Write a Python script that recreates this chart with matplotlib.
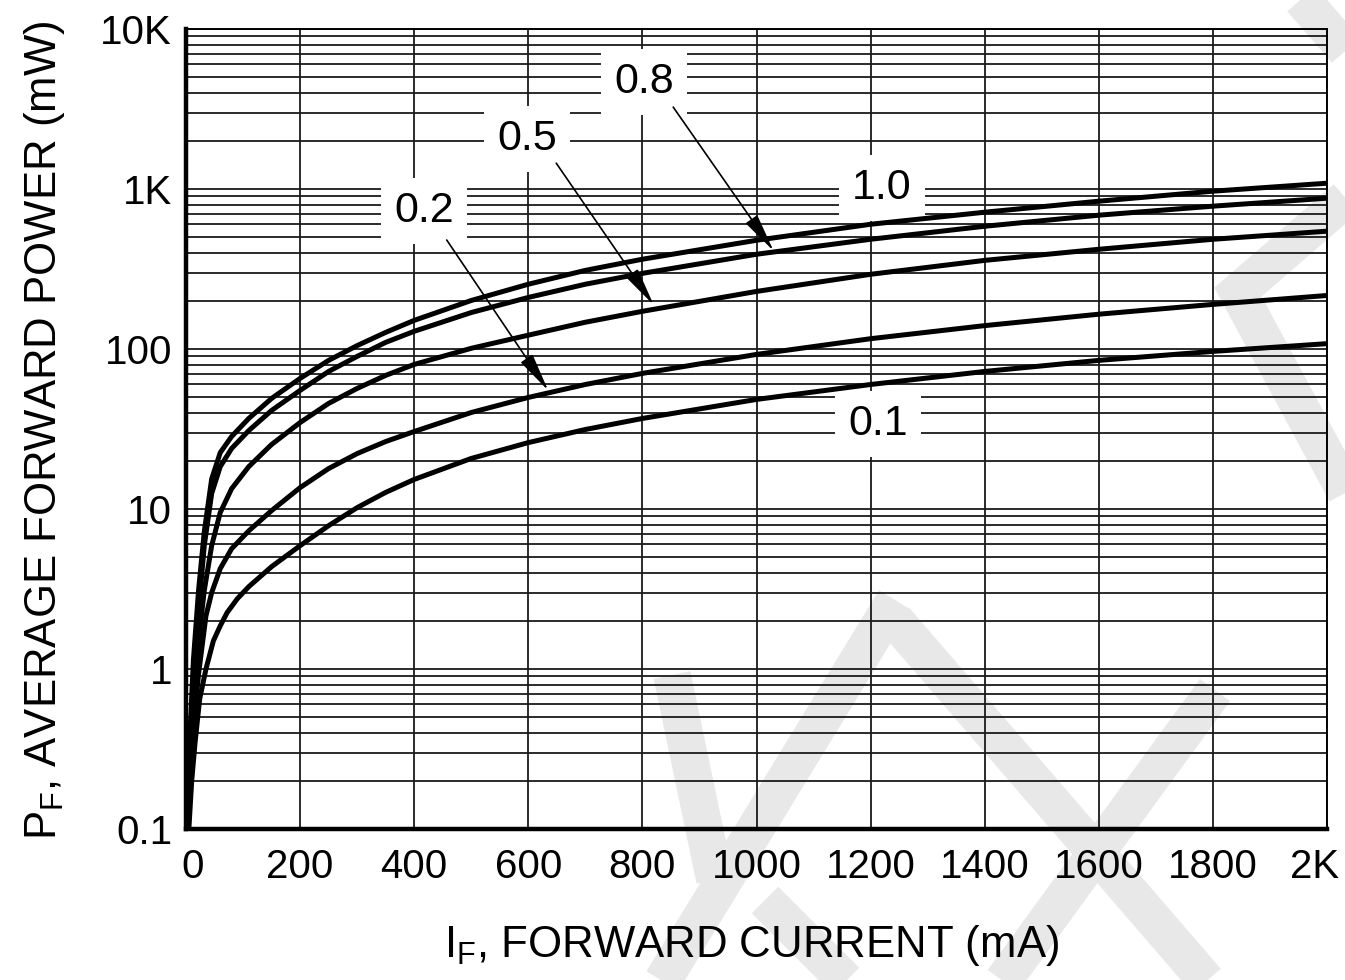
import matplotlib.pyplot as plt
import matplotlib.transforms as mtransforms
from matplotlib.lines import Line2D

plt.rcParams["font.family"] = ["Liberation Sans", "DejaVu Sans"]

# Forward current (mA) and average forward power (mW), one pair per duty cycle
i_10 = [2, 6, 13, 22, 32, 45, 60, 80, 110, 150, 200, 250, 300, 350, 400, 500, 600, 700, 800,
        1000, 1200, 1400, 1600, 1800, 2000]
p_10 = [0.1, 0.33, 1.14, 3.1, 7.2, 15.4, 22.5, 28.4, 36.8, 49.1, 65.5, 84.9, 105, 127, 151, 201,
        254, 310, 364, 478, 602, 716, 839, 969, 1087]

i_08 = [3, 6, 13, 22, 32, 45, 60, 80, 110, 150, 200, 250, 300, 350, 400, 500, 600, 700, 800,
        1000, 1200, 1400, 1600, 1800, 2000]
p_08 = [0.1, 0.30, 0.82, 2.3, 5.9, 12.5, 18.4, 23.9, 30.9, 41.3, 55.1, 72.4, 89.9, 110, 129, 169,
        210, 254, 297, 391, 485, 585, 686, 781, 876]

i_05 = [3, 7, 13, 22, 32, 45, 60, 80, 110, 150, 200, 250, 300, 350, 400, 500, 600, 700, 800,
        1000, 1200, 1400, 1600, 1800, 2000]
p_05 = [0.1, 0.28, 0.61, 1.5, 3.09, 5.9, 9.5, 13.4, 18.4, 25.3, 34.7, 45.7, 56.7, 68.4, 80.1, 101,
        122, 147, 172, 229, 293, 358, 420, 485, 545]

i_02 = [4, 8, 14, 22, 35, 45, 60, 80, 110, 150, 200, 250, 300, 350, 400, 500, 600, 700, 800,
        1000, 1200, 1400, 1600, 1800, 2000]
p_02 = [0.1, 0.21, 0.47, 0.93, 2.15, 3.0, 4.24, 5.65, 7.3, 9.77, 13.6, 17.9, 22.2, 26.4, 30.5, 40.1,
        49.8, 60.0, 70.4, 92.5, 116, 140, 165, 190, 216]

i_01 = [5, 10, 16, 24, 35, 48, 60, 72, 90, 110, 150, 200, 250, 300, 350, 400, 500, 600, 700, 800,
        1000, 1200, 1400, 1600, 1800, 2000]
p_01 = [0.1, 0.2, 0.35, 0.65, 1.0, 1.5, 1.86, 2.25, 2.75, 3.27, 4.36, 5.9, 7.87, 10.2, 12.7, 15.3,
        20.7, 26.0, 31.4, 36.8, 48.4, 60, 72.4, 84.9, 96.6, 108]

curvas = [(i_10, p_10), (i_08, p_08), (i_05, p_05), (i_02, p_02), (i_01, p_01)]

# Curve labels: text, label position, arrow tail, arrow tip (None = no arrow)
rotulos = ["0.8", "0.5", "0.2", "1.0", "0.1"]
pos_rotulo = [(803, 4650), (598, 2050), (417, 726), (1220, 1010), (1213, 34)]
seta_origem = [(854, 3250), (649, 1450), (457, 480), None, None]
seta_destino = [(1030, 410), (820, 188), (635, 55), None, None]

x_ticks = [0, 200, 400, 600, 800, 1000, 1200, 1400, 1600, 1800, 2000]
x_labels = ["0", "200", "400", "600", "800", "1000", "1200", "1400", "1600", "1800", "2K"]
y_ticks = [0.1, 1, 10, 100, 1000, 10000]
y_labels = ["0.1", "1", "10", "100", "1K", "10K"]

W, H = 1345, 980
fig = plt.figure(figsize=(W / 100, H / 100), dpi=100)
fig.patch.set_facecolor("white")

# light grey watermark strokes behind the chart (pixel coords of the page)
marca = [
    [(1298, -5), (1350, 55)],
    [(1350, 195), (1238, 292), (1350, 500)],
    [(895, 600), (660, 985)],
    [(895, 620), (1210, 985)],
    [(672, 675), (715, 880)],
    [(1215, 690), (1000, 985)],
    [(765, 900), (850, 985)],
]
for traco in marca:
    xs = [p[0] / W for p in traco]
    ys = [1 - p[1] / H for p in traco]
    fig.add_artist(Line2D(xs, ys, transform=fig.transFigure, color="#e8e8e8",
                          lw=27, solid_capstyle="butt", solid_joinstyle="miter", zorder=-1))

ax = fig.add_axes([186 / W, 1 - 829 / H, (1327 - 186) / W, (829 - 29) / H])
ax.set_facecolor("none")
ax.set_yscale("log")
ax.set_xlim(0, 2000)
ax.set_ylim(0.1, 10000)

ax.set_xticks(x_ticks)
ax.set_xticklabels(x_labels)
ax.set_yticks(y_ticks)
ax.set_yticklabels(y_labels)
ax.set_yticks([m * 10.0 ** k for k in range(-1, 4) for m in range(2, 10)], minor=True)
ax.yaxis.set_minor_formatter(plt.NullFormatter())
ax.tick_params(axis="both", which="both", length=0)
ax.tick_params(axis="x", labelsize=29, pad=14)
ax.tick_params(axis="y", labelsize=29, pad=10)

# nudge the end labels inward like in the original
rotulos_x = ax.get_xticklabels()
rotulos_x[0].set_transform(rotulos_x[0].get_transform()
                           + mtransforms.ScaledTranslation(7 / 100, 0, fig.dpi_scale_trans))
rotulos_x[-1].set_transform(rotulos_x[-1].get_transform()
                            + mtransforms.ScaledTranslation(-12 / 100, 0, fig.dpi_scale_trans))

ax.set_axisbelow(True)
ax.grid(True, axis="x", which="major", color="#1a1a1a", lw=1.3)
ax.grid(True, axis="y", which="both", color="#1a1a1a", lw=1.3)

for lado in ["left", "bottom"]:
    ax.spines[lado].set_linewidth(3.2)
for lado in ["top", "right"]:
    ax.spines[lado].set_linewidth(1.4)

for corrente, potencia in curvas:
    ax.plot(corrente, potencia, color="black", lw=3.6, solid_capstyle="round",
            solid_joinstyle="round", zorder=4)

for txt, pos, orig, dest in zip(rotulos, pos_rotulo, seta_origem, seta_destino):
    ax.text(pos[0], pos[1], txt, fontsize=31, ha="center", va="center", zorder=3,
            bbox=dict(boxstyle="square,pad=0.3", fc="white", ec="none"))
    if orig is not None:
        ax.annotate("", xy=dest, xytext=orig, zorder=5,
                    arrowprops=dict(arrowstyle="-|>,head_length=1.2,head_width=0.22",
                                    color="black", lw=1.2, mutation_scale=20,
                                    shrinkA=0, shrinkB=0))

fig.text(45 / W, 1 - 430 / H, r"P$_\mathregular{F}$, AVERAGE FORWARD POWER (mW)",
         rotation=90, ha="center", va="center", fontsize=31.5)
fig.text(752 / W, 1 - 945 / H, r"I$_\mathregular{F}$, FORWARD CURRENT (mA)",
         ha="center", va="center", fontsize=31.5)

fig.savefig("out.png", dpi=100)
